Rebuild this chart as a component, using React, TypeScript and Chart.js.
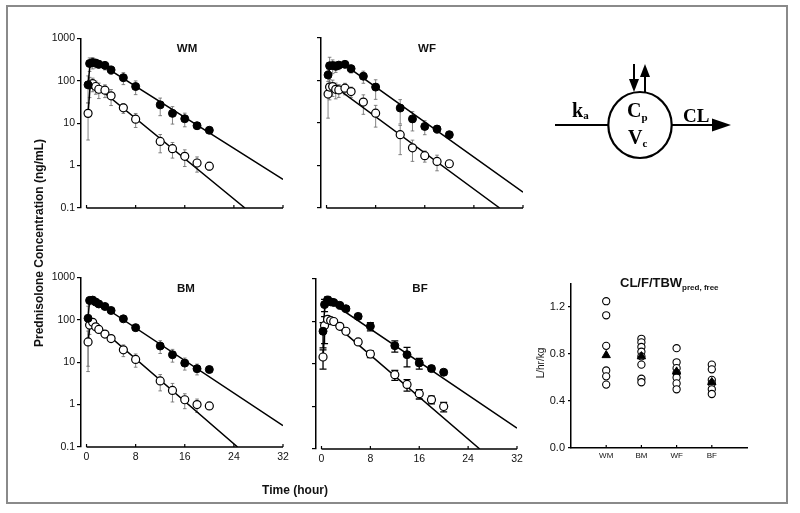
import React, { useEffect, useRef } from "react";
import { Chart, registerables } from "chart.js";
Chart.register(...registerables);

// ---------------- DATA ----------------
const TIMES = [0.25, 0.5, 1, 1.5, 2, 3, 4, 6, 8, 12, 14, 16, 18, 20];
const TIME_TICKS = [0, 8, 16, 24, 32];
const CONC_TICKS = [0.1, 1, 10, 100, 1000];

const WM_TOTAL = [80, 255, 270, 260, 245, 230, 180, 118, 73, 27, 17, 12.7, 8.7, 6.8];
const WM_TOTAL_SD = [50, 90, 80, 60, 50, 50, 40, 37, 26, 12, 7.5, 4.5, 1.5, 1];
const WM_FREE = [17, 80, 85, 73, 63, 60, 44, 23, 12.4, 3.7, 2.5, 1.65, 1.15, 0.97];
const WM_FREE_SD = [13, 40, 30, 25, 25, 20, 18, 6, 4.5, 1.7, 1, 0.7, 0.45, 0.2];
const WM_TOTAL_FIT_T = [0.25, 0.6, 1.5, 32];
const WM_TOTAL_FIT = [80, 270, 290, 0.47];
const WM_FREE_FIT_T = [0.25, 0.6, 1.0, 25.8];
const WM_FREE_FIT = [17, 80, 88, 0.1];

const WF_TOTAL = [135, 222, 225, 215, 230, 240, 190, 126, 70, 22.5, 12.5, 8.3, 7.2, 5.3];
const WF_TOTAL_SD = [40, 130, 80, 60, 50, 40, 40, 40, 34, 13, 6, 3, 1.5, 1];
const WF_FREE = [48, 70, 72, 62, 60, 66, 55, 31, 17, 5.3, 2.6, 1.7, 1.25, 1.1];
const WF_FREE_SD = [35, 35, 30, 25, 20, 20, 15, 15, 9, 3.5, 1.35, 0.5, 0.5, 0.2];
const WF_TOTAL_FIT_T = [0.25, 0.6, 2.5, 32];
const WF_TOTAL_FIT = [130, 220, 260, 0.235];
const WF_FREE_FIT_T = [0.25, 0.6, 1.0, 28.2];
const WF_FREE_FIT = [45, 72, 78, 0.1];

const BM_TOTAL = [108, 285, 290, 260, 235, 205, 165, 105, 65, 24, 15, 9.5, 7, 6.7];
const BM_TOTAL_SD = [100, 60, 30, 25, 20, 20, 20, 15, 10, 8, 5, 3, 2, 1];
const BM_FREE = [30, 75, 87, 68, 59, 46, 36, 19.5, 11.6, 3.6, 2.15, 1.3, 1.0, 0.93];
const BM_FREE_SD = [24, 30, 20, 12, 10, 8, 6, 6, 4, 1.5, 1.0, 0.5, 0.35, 0.15];
const BM_TOTAL_FIT_T = [0.25, 0.5, 1.0, 32];
const BM_TOTAL_FIT = [108, 290, 300, 0.32];
const BM_FREE_FIT_T = [0.25, 0.6, 1.0, 24.6];
const BM_FREE_FIT = [30, 85, 90, 0.1];

const BF_TOTAL = [59, 250, 320, 290, 280, 240, 200, 132, 77, 27, 16.6, 10.6, 7.8, 6.4];
const BF_TOTAL_SD = [35, 80, 60, 40, 30, 25, 20, 15, 17, 8, 8, 3, 1, 0.8];
const BF_FREE = [14.6, 80, 112, 105, 100, 77, 59, 33, 17.2, 5.6, 3.3, 2.0, 1.45, 1.0];
const BF_FREE_SD = [7, 50, 20, 15, 10, 8, 6, 4, 3, 1.5, 1.0, 0.5, 0.3, 0.25];
const BF_TOTAL_FIT_T = [0.25, 0.6, 1.0, 32];
const BF_TOTAL_FIT = [59, 280, 320, 0.31];
const BF_FREE_FIT_T = [0.25, 0.6, 1.2, 25.9];
const BF_FREE_FIT = [14.6, 90, 112, 0.1];

const CL_GROUPS = ["WM", "BM", "WF", "BF"];
const CL_WM = [1.25, 1.13, 0.87, 0.66, 0.61, 0.54];
const CL_BM = [0.93, 0.9, 0.86, 0.82, 0.78, 0.71, 0.59, 0.56];
const CL_WF = [0.85, 0.73, 0.68, 0.64, 0.6, 0.55, 0.5];
const CL_BF = [0.71, 0.67, 0.58, 0.55, 0.5, 0.46];
const CL_MEANS = [0.79, 0.78, 0.65, 0.56];
const CL_TICKS = [0, 0.4, 0.8, 1.2];

// ---------------- STYLE / LAYOUT ----------------
const FONT = "'Liberation Sans', Arial, Helvetica, sans-serif";
const SERIF = "'Liberation Serif', 'Times New Roman', serif";

const errorBarPlugin = {
  id: "errorBars",
  beforeDatasetsDraw(chart: any, _args: any, opts: any) {
    const { ctx, chartArea } = chart;
    const xs = chart.scales.x;
    const ys = chart.scales.y;
    ctx.save();
    ctx.beginPath();
    ctx.rect(chartArea.left, chartArea.top - 4, chartArea.right - chartArea.left, chartArea.bottom - chartArea.top + 4);
    ctx.clip();
    ctx.strokeStyle = opts.color || "#555";
    ctx.lineWidth = opts.width || 0.8;
    const cap = opts.cap || 2;
    chart.data.datasets.forEach((ds: any) => {
      if (!ds.errors) return;
      ds.data.forEach((pt: any, i: number) => {
        const e = ds.errors[i];
        if (!e) return;
        const px = xs.getPixelForValue(pt.x);
        const hi = ys.getPixelForValue(pt.y + e);
        const lov = pt.y - e > 0.02 ? pt.y - e : 0.02;
        const lo = ys.getPixelForValue(lov);
        ctx.beginPath();
        ctx.moveTo(px, hi);
        ctx.lineTo(px, lo);
        ctx.moveTo(px - cap, hi);
        ctx.lineTo(px + cap, hi);
        ctx.moveTo(px - cap, lo);
        ctx.lineTo(px + cap, lo);
        ctx.stroke();
      });
    });
    ctx.restore();
  },
};

const xAxisPlugin = {
  id: "xAxisLine",
  afterDraw(chart: any, _args: any, opts: any) {
    const { ctx, chartArea } = chart;
    const xs = chart.scales.x;
    const yb = chartArea.bottom;
    ctx.save();
    ctx.strokeStyle = "#000";
    ctx.lineWidth = 1.5;
    if (opts.drawLine) {
      ctx.beginPath();
      ctx.moveTo(xs.getPixelForValue(opts.from), yb);
      ctx.lineTo(xs.getPixelForValue(opts.to), yb);
      ctx.stroke();
    }
    ctx.lineWidth = 1.2;
    (opts.ticks || []).forEach((v: number) => {
      const px = xs.getPixelForValue(v);
      ctx.beginPath();
      ctx.moveTo(px, yb);
      ctx.lineTo(px, yb - (opts.len || 3));
      ctx.stroke();
    });
    ctx.restore();
  },
};

function ChartCanvas({ left, top, width, height, config }: any) {
  const ref = useRef<HTMLCanvasElement>(null);
  useEffect(() => {
    const chart = new Chart(ref.current as HTMLCanvasElement, config);
    return () => chart.destroy();
  }, []);
  return (
    <canvas
      ref={ref}
      width={width}
      height={height}
      style={{ position: "absolute", left, top, width, height }}
    />
  );
}

const XMIN = -0.9;
const YW = 40;
const PT = 8;
const PR = 10;
const XH = 22;

function concPanel(p: any) {
  const s = (p.x32 - p.x0) / 32;
  const chartLeft = p.x0 + XMIN * s;
  const left = Math.round(chartLeft) - YW;
  const top = Math.round(p.top) - PT;
  const width = Math.round(p.x32 - Math.round(chartLeft)) + YW + PR;
  const height = Math.round(p.bottom - p.top) + PT + XH;
  const pts = (ys: number[]) => TIMES.map((t, i) => ({ x: t, y: ys[i] }));
  const fit = (ts: number[], ys: number[]) => ts.map((t, i) => ({ x: t, y: ys[i] }));
  const config: any = {
    type: "scatter",
    data: {
      datasets: [
        {
          data: pts(p.total),
          errors: p.totalSd,
          pointRadius: 4,
          pointBackgroundColor: "#000",
          pointBorderColor: "#000",
          pointBorderWidth: 1,
          showLine: false,
        },
        {
          data: pts(p.free),
          errors: p.freeSd,
          pointRadius: 4,
          pointBackgroundColor: "#fff",
          pointBorderColor: "#000",
          pointBorderWidth: 1.2,
          showLine: false,
        },
        {
          data: fit(p.totalFitT, p.totalFit),
          showLine: true,
          borderColor: "#000",
          borderWidth: 1.5,
          pointRadius: 0,
          tension: 0,
        },
        {
          data: fit(p.freeFitT, p.freeFit),
          showLine: true,
          borderColor: "#000",
          borderWidth: 1.5,
          pointRadius: 0,
          tension: 0,
        },
      ],
    },
    options: {
      animation: false,
      responsive: false,
      maintainAspectRatio: false,
      layout: { padding: { top: PT, right: PR, left: 0, bottom: 0 } },
      plugins: {
        legend: { display: false },
        tooltip: { enabled: false },
        errorBars: p.bar,
        xAxisLine: { drawLine: true, from: 0, to: 32, ticks: TIME_TICKS, len: 3 },
      },
      scales: {
        x: {
          type: "linear",
          min: XMIN,
          max: 32,
          afterBuildTicks: (sc: any) => {
            sc.ticks = TIME_TICKS.map((v) => ({ value: v }));
          },
          afterFit: (sc: any) => {
            sc.height = XH;
          },
          grid: { display: false, drawTicks: false },
          border: { display: false },
          ticks: {
            display: p.showX,
            padding: 4,
            autoSkip: false,
            maxRotation: 0,
            color: "#111",
            font: { family: FONT, size: 10.5 },
            callback: (v: any) => String(v),
          },
        },
        y: {
          type: "logarithmic",
          min: 0.1,
          max: 1000,
          afterBuildTicks: (sc: any) => {
            sc.ticks = CONC_TICKS.map((v) => ({ value: v }));
          },
          afterFit: (sc: any) => {
            sc.width = YW;
          },
          grid: { display: true, drawOnChartArea: false, drawTicks: true, tickLength: 4, color: "#000", lineWidth: 1.2 },
          border: { display: true, color: "#000", width: 1.5 },
          ticks: {
            display: p.showY,
            padding: 2,
            color: "#111",
            font: { family: FONT, size: 10.5 },
            callback: (v: any) => String(v),
          },
        },
      },
    },
    plugins: [errorBarPlugin, xAxisPlugin],
  };
  return { left, top, width, height, config };
}

const thinBar = { color: "#666", width: 0.8, cap: 1.8 };
const boldBar = { color: "#000", width: 1.3, cap: 3.5 };

const PANELS = [
  concPanel({ x0: 86.7, x32: 282.7, top: 38.3, bottom: 208.3, showX: false, showY: true, bar: thinBar,
    total: WM_TOTAL, totalSd: WM_TOTAL_SD, free: WM_FREE, freeSd: WM_FREE_SD,
    totalFitT: WM_TOTAL_FIT_T, totalFit: WM_TOTAL_FIT, freeFitT: WM_FREE_FIT_T, freeFit: WM_FREE_FIT }),
  concPanel({ x0: 326.7, x32: 522.7, top: 38.3, bottom: 208.3, showX: false, showY: false, bar: thinBar,
    total: WF_TOTAL, totalSd: WF_TOTAL_SD, free: WF_FREE, freeSd: WF_FREE_SD,
    totalFitT: WF_TOTAL_FIT_T, totalFit: WF_TOTAL_FIT, freeFitT: WF_FREE_FIT_T, freeFit: WF_FREE_FIT }),
  concPanel({ x0: 86.7, x32: 282.7, top: 276.7, bottom: 446.7, showX: true, showY: true, bar: thinBar,
    total: BM_TOTAL, totalSd: BM_TOTAL_SD, free: BM_FREE, freeSd: BM_FREE_SD,
    totalFitT: BM_TOTAL_FIT_T, totalFit: BM_TOTAL_FIT, freeFitT: BM_FREE_FIT_T, freeFit: BM_FREE_FIT }),
  concPanel({ x0: 321.7, x32: 516.7, top: 279.3, bottom: 449.3, showX: true, showY: false, bar: boldBar,
    total: BF_TOTAL, totalSd: BF_TOTAL_SD, free: BF_FREE, freeSd: BF_FREE_SD,
    totalFitT: BF_TOTAL_FIT_T, totalFit: BF_TOTAL_FIT, freeFitT: BF_FREE_FIT_T, freeFit: BF_FREE_FIT }),
];

function clPanel() {
  const chartLeft = 571, chartRight = 747, chartTop = 282, chartBottom = 448;
  const yw = 38, pt = 8, pr = 6, xh = 18;
  const left = chartLeft - yw;
  const top = chartTop - pt;
  const width = chartRight - chartLeft + yw + pr;
  const height = chartBottom - chartTop + pt + xh;
  const groups = [CL_WM, CL_BM, CL_WF, CL_BF];
  const indiv: any[] = [];
  groups.forEach((g, gi) => g.forEach((v) => indiv.push({ x: gi + 1, y: v })));
  const means = CL_MEANS.map((v, i) => ({ x: i + 1, y: v }));
  const config: any = {
    type: "scatter",
    data: {
      datasets: [
        {
          data: means,
          pointStyle: "triangle",
          pointRadius: 4.8,
          pointBackgroundColor: "#000",
          pointBorderColor: "#000",
          pointBorderWidth: 1,
        },
        {
          data: indiv,
          pointRadius: 3.6,
          pointBackgroundColor: "#fff",
          pointBorderColor: "#000",
          pointBorderWidth: 1.1,
        },
      ],
    },
    options: {
      animation: false,
      responsive: false,
      maintainAspectRatio: false,
      layout: { padding: { top: pt, right: pr, left: 0, bottom: 0 } },
      plugins: {
        legend: { display: false },
        tooltip: { enabled: false },
        xAxisLine: { drawLine: false, ticks: [1, 2, 3, 4], len: 3 },
      },
      scales: {
        x: {
          type: "linear",
          min: 0,
          max: 5,
          afterBuildTicks: (sc: any) => {
            sc.ticks = [1, 2, 3, 4].map((v) => ({ value: v }));
          },
          afterFit: (sc: any) => {
            sc.height = xh;
          },
          grid: { display: false, drawTicks: false },
          border: { display: true, color: "#000", width: 1.5 },
          ticks: {
            padding: 3,
            autoSkip: false,
            maxRotation: 0,
            color: "#111",
            font: { family: FONT, size: 8 },
            callback: (v: any) => CL_GROUPS[v - 1] || "",
          },
        },
        y: {
          type: "linear",
          min: 0,
          max: 1.4,
          afterBuildTicks: (sc: any) => {
            sc.ticks = CL_TICKS.map((v) => ({ value: v }));
          },
          afterFit: (sc: any) => {
            sc.width = yw;
          },
          grid: { display: true, drawOnChartArea: false, drawTicks: true, tickLength: 3, color: "#000", lineWidth: 1.2 },
          border: { display: true, color: "#000", width: 1.5 },
          ticks: {
            padding: 3,
            color: "#111",
            font: { family: FONT, size: 11 },
            callback: (v: any) => Number(v).toFixed(1),
          },
        },
      },
    },
    plugins: [xAxisPlugin],
  };
  return { left, top, width, height, config };
}

const CL_PANEL = clPanel();

export default function App() {
  return (
    <div
      style={{
        position: "fixed",
        left: 0,
        top: 0,
        width: 800,
        height: 513,
        background: "#fff",
        overflow: "hidden",
      }}
    >
      <div
        style={{
          position: "absolute",
          left: 6,
          top: 5,
          width: 782,
          height: 499,
          border: "2px solid #8a8a8a",
          boxSizing: "border-box",
        }}
      />
      {PANELS.map((p, i) => (
        <ChartCanvas key={i} {...p} />
      ))}
      <ChartCanvas {...CL_PANEL} />
      <svg
        width={800}
        height={513}
        style={{ position: "absolute", left: 0, top: 0, pointerEvents: "none" }}
      >
        <g fontFamily={FONT} fontWeight="bold" fill="#111">
          <text x={187} y={51.5} fontSize={11.5} textAnchor="middle">WM</text>
          <text x={427} y={51.5} fontSize={11.5} textAnchor="middle">WF</text>
          <text x={186} y={291.5} fontSize={11.5} textAnchor="middle">BM</text>
          <text x={420} y={291.5} fontSize={11.5} textAnchor="middle">BF</text>
          <text transform="translate(43,243) rotate(-90)" fontSize={12} textAnchor="middle">
            Prednisolone Concentration (ng/mL)
          </text>
          <text x={295} y={494} fontSize={12} textAnchor="middle">Time (hour)</text>
          <text x={620} y={287} fontSize={13}>
            CL/F/TBW
            <tspan fontSize={8} dy={3}>pred, free</tspan>
          </text>
        </g>
        <text
          transform="translate(544,363) rotate(-90)"
          fontFamily={FONT}
          fontSize={10}
          textAnchor="middle"
          fill="#111"
        >
          L/hr/kg
        </text>
        {/* one-compartment model diagram */}
        <g stroke="#000" strokeWidth={2} fill="none">
          <ellipse cx={640} cy={125} rx={31.7} ry={33} strokeWidth={2.2} />
          <line x1={555} y1={125} x2={608.3} y2={125} />
          <line x1={671.7} y1={125} x2={716} y2={125} />
          <line x1={634} y1={64} x2={634} y2={82} />
          <line x1={645} y1={92.5} x2={645} y2={74} />
        </g>
        <g fill="#000">
          <polygon points="731,125 712,118.5 712,131.5" />
          <polygon points="634,92 629,79 639,79" />
          <polygon points="645,64 640,77 650,77" />
        </g>
        <g fontFamily={SERIF} fontWeight="bold" fill="#000">
          <text x={572} y={117} fontSize={20}>
            k<tspan fontSize={11} dy={2}>a</tspan>
          </text>
          <text x={627} y={117} fontSize={20}>
            C<tspan fontSize={11} dy={4}>p</tspan>
          </text>
          <text x={628} y={144} fontSize={20}>
            V<tspan fontSize={11} dy={3}>c</tspan>
          </text>
          <text x={683} y={122} fontSize={19}>CL</text>
        </g>
      </svg>
    </div>
  );
}
